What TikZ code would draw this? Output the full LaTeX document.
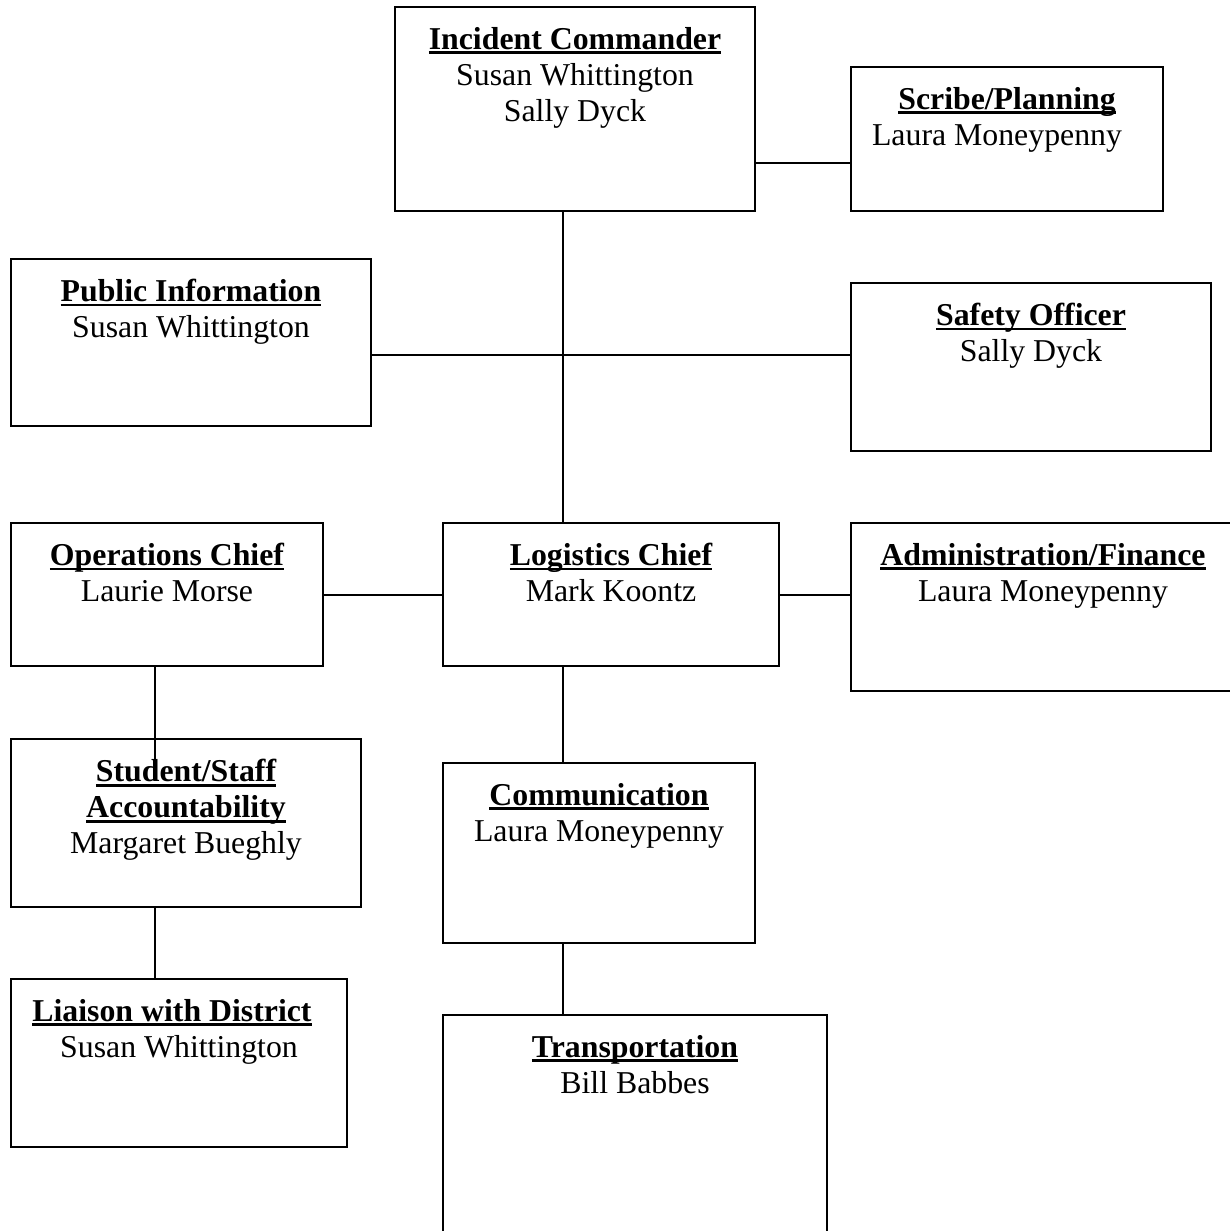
\documentclass[tikz,border=0pt]{standalone}
\usepackage{fontspec}
\setmainfont{Liberation Serif}
\usetikzlibrary{positioning, calc}
\tikzset{
  every picture/.style={line width=1pt},
  orgbox/.style={draw, rectangle, inner sep=0pt, line width=1pt},
  orgtext/.style={anchor=north, inner sep=0pt, align=center, font=\fontsize{15.9pt}{18pt}\selectfont},
  link/.style={draw, line width=1pt},
}
\newcommand{\ultitle}[1]{\setbox0=\hbox{\bfseries #1}\rlap{\rule[-2.3pt]{\wd0}{1.4pt}}\box0}

\begin{document}
\begin{tikzpicture}[x=0.5pt, y=-0.5pt]
  \useasboundingbox (0,0) rectangle (1230,1231);
  % \orgunit{name}{left}{top}{right}{bottom}{text}
  \newcommand{\orgunit}[6]{%
    \node[orgbox, minimum width={(#4-#2)*0.5pt}, minimum height={(#5-#3)*0.5pt}] (#1) at ({(#2+#4)/2}, {(#3+#5)/2}) {};
    \node[orgtext] (#1-txt) at ({(#2+#4)/2}, #3+19.5) {#6};}
  \orgunit{ic}{395}{7}{755}{211}{\ultitle{Incident Commander}\\Susan Whittington\\Sally Dyck}
  \orgunit{scribe}{851}{67}{1163}{211}{\ultitle{Scribe/Planning}\\Laura Moneypenny\kern10pt}
  \orgunit{pub}{11}{259}{371}{426}{\ultitle{Public Information}\\Susan Whittington}
  \orgunit{safety}{851}{283}{1211}{451}{\ultitle{Safety Officer}\\Sally Dyck}
  \orgunit{ops}{11}{523}{323}{666}{\ultitle{Operations Chief}\\Laurie Morse}
  \orgunit{log}{443}{523}{779}{666}{\ultitle{Logistics Chief}\\Mark Koontz}
  \orgunit{admin}{851}{523}{1235}{691}{\ultitle{Administration/Finance}\\Laura Moneypenny}
  \orgunit{stud}{11}{739}{361}{907}{\ultitle{Student/Staff}\\\ultitle{Accountability}\\Margaret Bueghly}
  \orgunit{comm}{443}{763}{755}{943}{\ultitle{Communication}\\Laura Moneypenny}
  \orgunit{liaison}{11}{979}{347}{1147}{\ultitle{Liaison with District}\kern7pt\\Susan Whittington}
  \orgunit{trans}{443}{1015}{827}{1232}{\ultitle{Transportation}\\Bill Babbes}
  % connector lines
  \coordinate (mainx) at (563,0);
  \coordinate (leftx) at (155,0);
  \coordinate (plany) at (0,163);
  \coordinate (cmdy) at ($(pub.east)!0.5!(safety.west)$);
  \draw[link] (ic.south -| mainx) -- (log.north -| mainx);
  \draw[link] (ic.east |- plany) -- (scribe.west |- plany);
  \draw[link] (pub.east |- cmdy) -- (safety.west |- cmdy);
  \draw[link] (ops.east) -- (log.west);
  \draw[link] (log.east) -- (admin.west |- log.east);
  \draw[link] (ops.south -| leftx) -- ([yshift=-12pt]stud.north -| leftx);
  \draw[link] (stud.south -| leftx) -- (liaison.north -| leftx);
  \draw[link] (log.south -| mainx) -- (comm.north -| mainx);
  \draw[link] (comm.south -| mainx) -- (trans.north -| mainx);
\end{tikzpicture}
\end{document}
